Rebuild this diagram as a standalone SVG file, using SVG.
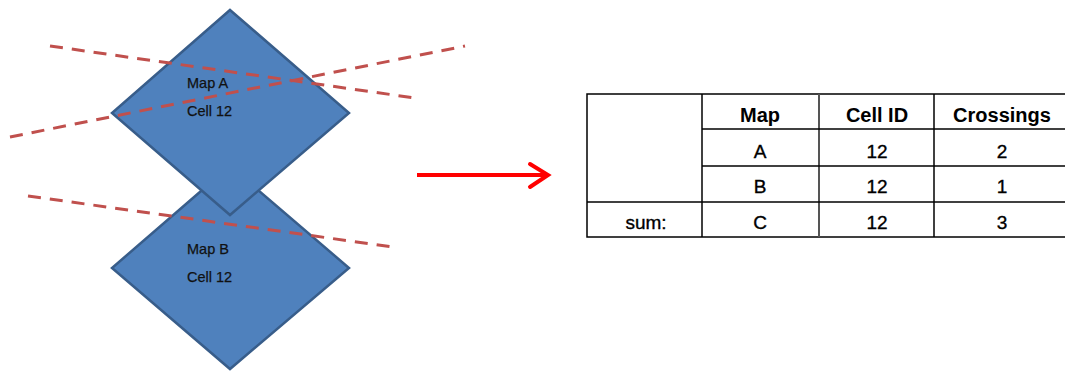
<svg xmlns="http://www.w3.org/2000/svg" width="1065" height="371" viewBox="0 0 1065 371">
  <style>
    .cell { fill: #4f81bd; stroke: #385d8a; stroke-width: 2.5; stroke-linejoin: miter; }
    .lbl { font-family: "Liberation Sans", Arial, sans-serif; font-size: 14.5px; fill: #111; stroke: #111; stroke-width: 0.25; }
    .track { stroke: #c0504d; stroke-width: 3; stroke-dasharray: 13 9; fill: none; }
    .grid { stroke: #000; stroke-width: 1.5; fill: none; }
    .th { font-family: "Liberation Sans", Arial, sans-serif; font-size: 20px; font-weight: bold; fill: #000; text-anchor: middle; }
    .td { font-family: "Liberation Sans", Arial, sans-serif; font-size: 19px; fill: #000; stroke: #000; stroke-width: 0.35; text-anchor: middle; }
  </style>

  <!-- lower cell (drawn first, partly covered) -->
  <g id="mapB">
    <polygon class="cell" points="230,166 349,268 230,369 112,268"/>
    <text class="lbl" x="187" y="254">Map B</text>
    <text class="lbl" x="187" y="282">Cell 12</text>
  </g>

  <!-- upper cell -->
  <g id="mapA">
    <polygon class="cell" points="230,10 349,113 230,215 112,113"/>
    <text class="lbl" x="187" y="88">Map A</text>
    <text class="lbl" x="187" y="116">Cell 12</text>
  </g>

  <!-- crossing tracks -->
  <g id="tracks">
    <line class="track" x1="50" y1="46" x2="415" y2="98"/>
    <line class="track" x1="10" y1="137" x2="465" y2="46"/>
    <line class="track" x1="28" y1="196" x2="393" y2="247"/>
  </g>

  <!-- transfer arrow -->
  <g id="connectors">
    <line x1="417" y1="175" x2="547" y2="175" stroke="#ff0000" stroke-width="4"/>
    <polyline points="530,164 548,175 530,187" fill="none" stroke="#ff0000" stroke-width="4" stroke-linecap="round" stroke-linejoin="miter"/>
  </g>

  <!-- result table -->
  <g id="table">
    <rect class="grid" x="587" y="94" width="490" height="143"/>
    <line class="grid" x1="702" y1="94" x2="702" y2="237"/>
    <line x1="819" y1="94" x2="819" y2="237" stroke="#555" stroke-width="2"/>
    <line class="grid" x1="934" y1="94" x2="934" y2="237"/>
    <line class="grid" x1="702" y1="129" x2="1065" y2="129"/>
    <line class="grid" x1="702" y1="166" x2="1065" y2="166"/>
    <line class="grid" x1="587" y1="202" x2="1065" y2="202"/>

    <text class="th" x="760" y="122">Map</text>
    <text class="th" x="877" y="122">Cell ID</text>
    <text class="th" x="1002" y="122">Crossings</text>

    <text class="td" x="760" y="158">A</text>
    <text class="td" x="877" y="158">12</text>
    <text class="td" x="1002" y="158">2</text>

    <text class="td" x="760" y="193">B</text>
    <text class="td" x="877" y="193">12</text>
    <text class="td" x="1002" y="193">1</text>

    <text class="td" x="646" y="229">sum:</text>
    <text class="td" x="760" y="229">C</text>
    <text class="td" x="877" y="229">12</text>
    <text class="td" x="1002" y="229">3</text>
  </g>
</svg>
